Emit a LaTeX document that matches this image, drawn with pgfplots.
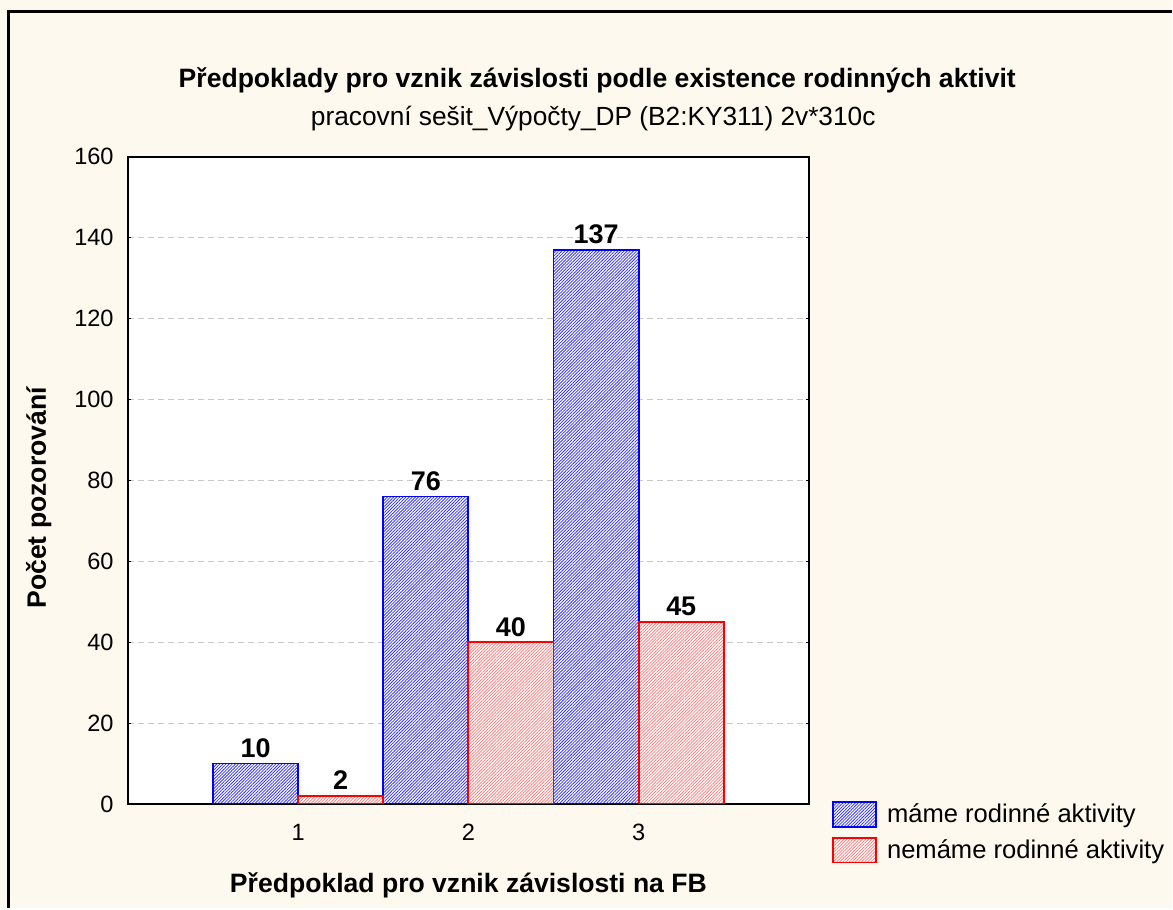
\documentclass[border=0pt]{standalone}
\usepackage{pgfplots}
\pgfplotsset{compat=1.18}
\usepackage{fontspec}
\setmainfont{Liberation Sans}
\usetikzlibrary{patterns.meta}
\definecolor{bgcream}{HTML}{FEF9EE}
\definecolor{gridgray}{HTML}{C8C8C8}
\begin{document}
\begin{tikzpicture}
\fill[bgcream] (-64pt,-52pt) rectangle (522.5pt,402.5pt);
\draw[line width=1.5pt] (-59.5pt,-52pt) -- (-59.5pt,396.5pt) -- (522.5pt,396.5pt);
\node[anchor=base, font=\fontsize{13.3}{15}\selectfont\bfseries] at (235pt,358.5pt) {Předpoklady pro vznik závislosti podle existence rodinných aktivit};
\node[anchor=base, font=\fontsize{13.15}{15}\selectfont] at (233pt,339.5pt) {pracovní sešit\_Výpočty\_DP (B2:KY311) 2v*310c};
\begin{axis}[
  scale only axis, width=341pt, height=324pt,
  xmin=0, xmax=4, ymin=0, ymax=160,
  xtick={1,2,3}, ytick={0,20,...,160},
  xtick style={draw=none},
  ytick style={black, line width=0.5pt},
  major tick length=1.5pt, tick align=inside,
  axis background/.style={fill=white},
  axis line style={line width=1.2pt},
  ymajorgrids, major grid style={densely dashed, gridgray, line width=0.5pt},
  /pgf/number format/assume math mode=true,
  tick label style={font=\fontsize{11.8}{13}\selectfont},
  xticklabel style={yshift=-5pt},
  yticklabel style={xshift=-3.6pt},
  ylabel={Počet pozorování},
  xlabel={Předpoklad pro vznik závislosti na FB},
  every axis y label/.style={at={(axis description cs:-0.131,0.473)}, rotate=90, anchor=center, font=\fontsize{13.3}{15}\selectfont\bfseries},
  every axis x label/.style={at={(axis description cs:0.5,-0.1265)}, anchor=center, font=\fontsize{13.3}{15}\selectfont\bfseries},
  ybar, bar width=0.5,
  nodes near coords,
  every node near coord/.append style={font=\fontsize{13.5}{15}\selectfont\bfseries, text=black, inner sep=2.5pt},
  legend style={at={(axis description cs:1.0337,0.0077)}, anchor=north west, draw=none, fill=none, inner sep=0pt, row sep=3pt, font=\fontsize{12.8}{14}\selectfont, nodes={inner sep=2pt, anchor=west}},
  legend cell align=left,
  legend image code/.code={\draw[#1] (0pt,-6.25pt) rectangle (21.5pt,6.25pt);},
]
\addplot[draw=blue, line width=0.9pt, fill=white, postaction={pattern={Lines[angle=45,distance=1.1pt,line width=0.4pt]}, pattern color=blue!80}, bar shift=-0.25]
  coordinates {(1,10) (2,76) (3,137)};
\addplot[draw=red, line width=0.9pt, fill=white, postaction={pattern={Lines[angle=45,distance=1.1pt,line width=0.35pt]}, pattern color=red!55}, bar shift=0.25]
  coordinates {(1,2) (2,40) (3,45)};
\legend{\hspace{3pt}máme rodinné aktivity, \hspace{3pt}nemáme rodinné aktivity}
\end{axis}
\useasboundingbox (-64pt,-52pt) rectangle (522.5pt,402.5pt);
\end{tikzpicture}
\end{document}
